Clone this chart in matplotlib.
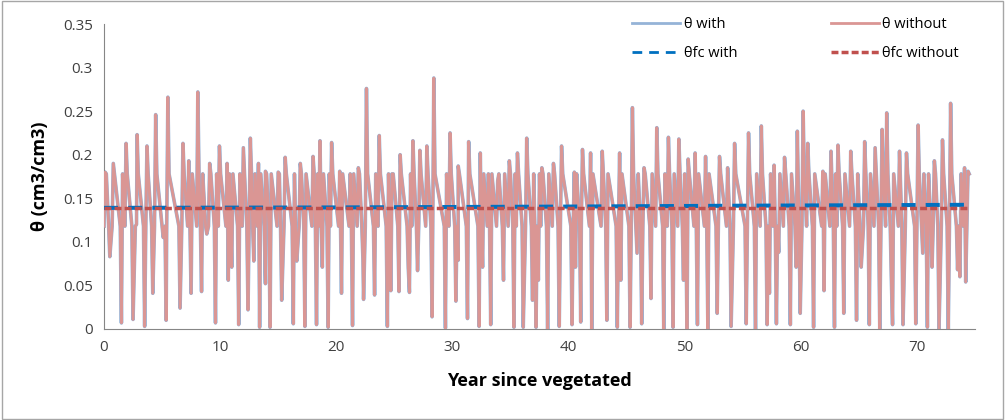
import numpy as np
import matplotlib
matplotlib.use("Agg")
import matplotlib.pyplot as plt
from matplotlib.patches import Rectangle

plt.rcParams["font.family"] = ["Open Sans", "DejaVu Sans"]

# --- values (years since vegetated, theta in cm3/cm3) ---
# wet-season spikes
peak_t = [0.1, 0.8, 1.9, 2.85, 3.7, 4.45, 5.5, 6.8, 7.3, 8.08, 9.1, 9.94,
          10.6, 12.0, 12.6, 13.3, 13.9, 15.0, 15.6, 16.9, 18.0, 18.6, 19.6,
          20.3, 21.2, 21.9, 22.6, 23.7, 24.8, 25.5, 26.6, 27.2, 27.8, 28.4,
          29.8, 30.5, 31.4, 32.4, 33.1, 33.9, 34.9, 35.6, 36.4, 37.7, 38.7,
          39.4, 40.5, 41.2, 41.9, 42.9, 44.4, 45.5, 46.5, 47.6, 48.6, 49.5,
          50.3, 50.9, 51.8, 53.0, 53.7, 54.3, 55.5, 56.6, 57.7, 58.6, 59.7,
          60.2, 60.6, 61.9, 62.6, 63.2, 64.3, 65.5, 66.4, 67.0, 67.4, 68.5,
          69.1, 70.1, 71.5, 72.2, 72.9, 74.1, 74.4]
peak_v = [0.180, 0.190, 0.213, 0.223, 0.210, 0.246, 0.266, 0.213, 0.193,
          0.272, 0.190, 0.210, 0.190, 0.208, 0.219, 0.190, 0.181, 0.180,
          0.197, 0.190, 0.198, 0.216, 0.214, 0.181, 0.178, 0.185, 0.276,
          0.222, 0.178, 0.200, 0.216, 0.205, 0.210, 0.288, 0.225, 0.187,
          0.215, 0.202, 0.178, 0.170, 0.193, 0.202, 0.219, 0.185, 0.190,
          0.210, 0.180, 0.206, 0.202, 0.204, 0.202, 0.254, 0.185, 0.231,
          0.220, 0.218, 0.195, 0.202, 0.198, 0.198, 0.185, 0.213, 0.225,
          0.233, 0.188, 0.197, 0.227, 0.250, 0.213, 0.181, 0.204, 0.211,
          0.204, 0.215, 0.208, 0.229, 0.248, 0.204, 0.202, 0.234, 0.193,
          0.217, 0.259, 0.185, 0.181]

# dry-season drops
dip_t = [0.5, 1.5, 2.5, 3.5, 4.2, 5.35, 6.55, 7.5, 8.4, 9.6, 10.7, 11.6,
         12.4, 13.4, 14.3, 15.3, 16.3, 17.3, 18.3, 19.3, 20.45, 21.4, 22.35,
         23.3, 24.4, 25.4, 26.3, 27.0, 28.25, 29.4, 30.3, 31.3, 32.3, 33.3,
         34.4, 35.3, 36.1, 37.2, 38.2, 39.2, 40.3, 41.05, 42.0, 43.3, 44.2,
         45.3, 46.3, 47.1, 48.2, 49.0, 50.2, 51.1, 52.0, 52.8, 54.0, 55.3,
         56.1, 57.1, 57.9, 59.1, 59.95, 61.1, 62.0, 62.9, 63.7, 64.8, 65.9,
         66.8, 67.9, 68.8, 69.9, 70.9, 71.9, 72.7, 73.7, 74.2]
dip_v = [0.083, 0.007, 0.011, 0.003, 0.041, 0.010, 0.024, 0.041, 0.043,
         0.007, 0.056, 0.005, 0.022, 0.002, 0.002, 0.033, 0.006, 0.003,
         0.005, 0.002, 0.041, 0.004, 0.034, 0.039, 0.003, 0.043, 0.042,
         0.067, 0.014, 0.001, 0.032, 0.012, 0.003, 0.005, 0.056, 0.002,
         0.002, 0.002, 0.000, 0.003, 0.005, 0.008, 0.000, 0.010, 0.002,
         0.002, 0.006, 0.035, 0.000, 0.002, 0.000, 0.005, 0.000, 0.018,
         0.003, 0.006, 0.000, 0.005, 0.006, 0.005, 0.018, 0.002, 0.044,
         0.002, 0.018, 0.010, 0.005, 0.000, 0.005, 0.005, 0.006, 0.002,
         0.000, 0.000, 0.060, 0.054]

# shallower mid-season drops
mid_t = [2.8, 5.1, 8.85, 11.0, 12.9, 13.9, 16.6, 18.8, 22.3, 24.7, 26.2,
         30.5, 32.6, 36.9, 37.4, 40.6, 44.5, 45.9, 49.9, 57.3, 58.1, 59.6,
         65.2, 67.8, 70.5, 71.3, 73.5]
mid_v = [0.120, 0.105, 0.109, 0.071, 0.078, 0.052, 0.078, 0.071, 0.079,
         0.044, 0.070, 0.079, 0.071, 0.033, 0.056, 0.071, 0.056, 0.087,
         0.056, 0.041, 0.088, 0.071, 0.071, 0.056, 0.087, 0.071, 0.068]

# band the profile drains through between events (upper edge after an event,
# lower edge just before the next one)
band_hi = 0.178
band_lo = 0.118

# field capacity
fc_t = [0, 20, 40, 55, 74.5]
fc_with = [0.1390, 0.1395, 0.1405, 0.1415, 0.1425]
fc_without = [0.1385, 0.1385, 0.1385, 0.1385, 0.1385]

x_ticks = [0, 10, 20, 30, 40, 50, 60, 70]
y_ticks = [0, 0.05, 0.1, 0.15, 0.2, 0.25, 0.3, 0.35]
y_ticklabels = ["0", "0.05", "0.1", "0.15", "0.2", "0.25", "0.3", "0.35"]


def build_series(w=0.1):
    # every event is a narrow spike rising out of / falling back to the band
    events = sorted(list(zip(peak_t, peak_v)) + list(zip(dip_t, dip_v))
                    + list(zip(mid_t, mid_v)))
    t_out, v_out = [], []
    for i, (t, v) in enumerate(events):
        if not t_out or t - w > t_out[-1] + 0.05:
            t_out.append(max(t - w, 0))
            v_out.append(band_lo)
        t_out.append(t)
        v_out.append(v)
        nxt = events[i + 1][0] if i + 1 < len(events) else None
        if nxt is None or nxt - t > 3 * w:
            t_out.append(t + w)
            v_out.append(band_hi)
    return np.array(t_out), np.array(v_out)


t_with, theta_with = build_series()
t_without, theta_without = build_series()

fig = plt.figure(figsize=(10.06, 4.2), dpi=100)
ax = fig.add_axes([104 / 1006, 1 - 329 / 420, 871 / 1006, 305 / 420])

ax.plot(t_with, theta_with, color="#95B3D7", lw=2.6, label="θ with", zorder=2)
ax.plot(t_without, theta_without, color="#DA9694", lw=2.0, label="θ without", zorder=3)
ax.plot(fc_t, fc_with, color="#0070C0", lw=2.9, dashes=(3.5, 2.5),
        label="θfc with", zorder=4)
ax.plot(fc_t, fc_without, color="#C0504D", lw=2.5, dashes=(2.0, 0.9),
        label="θfc without", zorder=5)

ax.set_xlim(0, 75)
ax.set_ylim(0, 0.35)
ax.set_xticks(x_ticks)
ax.set_yticks(y_ticks)
ax.set_yticklabels(y_ticklabels)
ax.tick_params(axis="both", length=0, labelsize=11, colors="#404040", pad=8)
for side in ["top", "right"]:
    ax.spines[side].set_visible(False)
for side in ["left", "bottom"]:
    ax.spines[side].set_color("#868686")

ax.set_xlabel("Year since vegetated", fontsize=13, fontweight="bold", labelpad=12)
ax.set_ylabel("θ (cm3/cm3)", fontsize=13, fontweight="bold", labelpad=10)

handles, labels = ax.get_legend_handles_labels()
order = [0, 2, 1, 3]
leg = ax.legend([handles[i] for i in order], [labels[i] for i in order],
                ncol=2, loc="upper left", bbox_to_anchor=(632 / 1006, 1 - 17 / 420),
                bbox_transform=fig.transFigure, frameon=False, fontsize=10.5,
                handlelength=3.3, handletextpad=0.25, columnspacing=6.4,
                labelspacing=0.95, borderpad=0, borderaxespad=0)
for h in leg.get_lines()[:2]:
    h.set_linewidth(2.0)

fig.patches.append(Rectangle((0.002, 0.003), 0.995, 0.994, transform=fig.transFigure,
                             fill=False, edgecolor="#A6A6A6", lw=1))

fig.savefig("out.png", dpi=100)
